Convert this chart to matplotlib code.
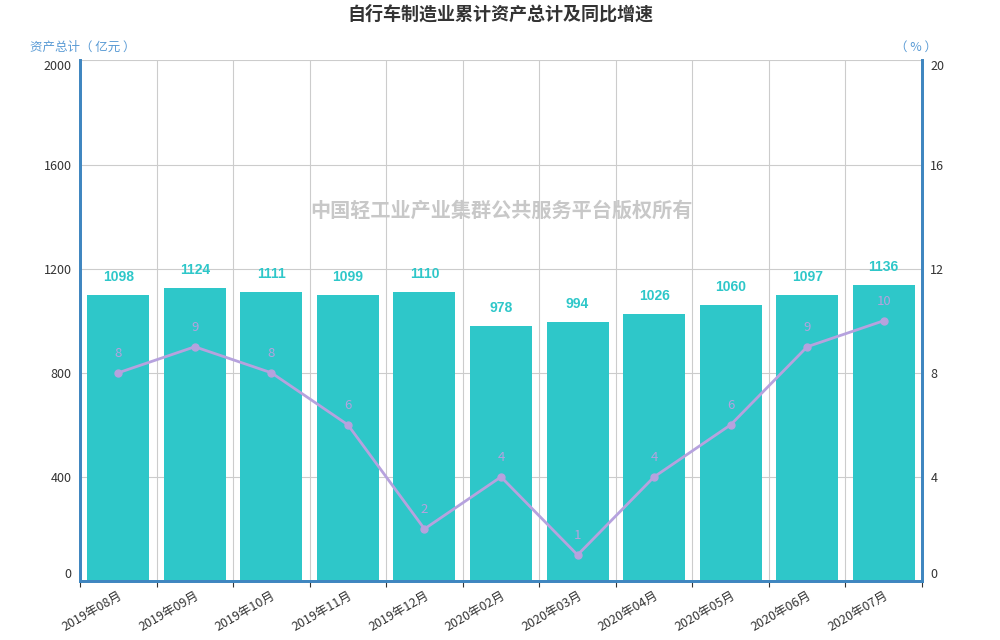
import matplotlib
matplotlib.use("Agg")
import matplotlib.pyplot as plt
import numpy as np

plt.rcParams['font.family'] = ['Noto Sans CJK SC', 'DejaVu Sans']

# data
months = ['2019年08月', '2019年09月', '2019年10月', '2019年11月', '2019年12月',
          '2020年02月', '2020年03月', '2020年04月', '2020年05月', '2020年06月', '2020年07月']
assets = [1098, 1124, 1111, 1099, 1110, 978, 994, 1026, 1060, 1097, 1136]
growth = [8, 9, 8, 6, 2, 4, 1, 4, 6, 9, 10]
left_ticks = [0, 400, 800, 1200, 1600, 2000]
right_ticks = [0, 4, 8, 12, 16, 20]

bar_color = '#2ec7c9'
line_color = '#b6a2de'
axis_color = '#3f86c0'
label_blue = '#5a9bd5'

fig = plt.figure(figsize=(10, 6.4), dpi=100)
ax = fig.add_axes([0.08, 0.0922, 0.842, 0.8133])
ax2 = ax.twinx()

x = np.arange(len(months))

# grid
ax.set_axisbelow(True)
for b in np.arange(-0.5, len(months), 1.0):
    ax.axvline(b, color='#cccccc', lw=0.8, zorder=0)
for t in left_ticks:
    ax.axhline(t, color='#cccccc', lw=0.8, zorder=0)

ax.text(5, 1425, '中国轻工业产业集群公共服务平台版权所有', ha='center', va='center',
        fontsize=14.5, fontweight='bold', color='#c8c8c8', zorder=0.5)

ax.bar(x, assets, width=0.81, color=bar_color, zorder=2)
for xi, v in zip(x, assets):
    ax.annotate(str(v), (xi, v), xytext=(0, 13), textcoords='offset points',
                ha='center', va='center', fontsize=10, fontweight='bold',
                color=bar_color, family=['Liberation Sans'])

ax2.plot(x, growth, color=line_color, lw=2, marker='o', ms=5, zorder=3)
for xi, v in zip(x, growth):
    ax2.annotate(str(v), (xi, v), xytext=(0, 14), textcoords='offset points',
                 ha='center', va='center', fontsize=9.5, color=line_color)

ax.set_xlim(-0.5, len(months) - 0.5)
ax.set_ylim(0, 2000)
ax2.set_ylim(0, 20)
ax.set_yticks(left_ticks)
ax2.set_yticks(right_ticks)
ax.set_xticks(x)
ax.set_xticklabels(months, rotation=30, ha='right', rotation_mode='anchor',
                   fontsize=9, color='#333333')
ax.set_xticks(np.arange(-0.5, len(months), 1.0), minor=True)
ax.tick_params(axis='x', which='major', length=0, pad=6)
ax.tick_params(axis='x', which='minor', length=4, color='#333333', width=0.8)
ax.tick_params(axis='y', length=0, labelsize=9, labelcolor='#333333', pad=6)
ax2.tick_params(axis='y', length=0, labelsize=9, labelcolor='#333333', pad=6)

for a, ticks in ((ax, ax.get_yticklabels()), (ax2, ax2.get_yticklabels())):
    ticks[0].set_va('bottom')
    ticks[-1].set_va('top')

for a in (ax, ax2):
    a.spines['top'].set_visible(False)
    for s in ('left', 'right', 'bottom'):
        a.spines[s].set_color(axis_color)
        a.spines[s].set_linewidth(2)

fig.text(0.5, 0.978, '自行车制造业累计资产总计及同比增速', ha='center', va='center',
         fontsize=13, fontweight='bold', color='#333333')
fig.text(0.03, 0.926, '资产总计（ 亿元 ）', ha='left', va='center', fontsize=9, color=label_blue)
fig.text(0.937, 0.926, '（ % ）', ha='right', va='center', fontsize=9, color=label_blue)

fig.savefig('out.png', dpi=100)
